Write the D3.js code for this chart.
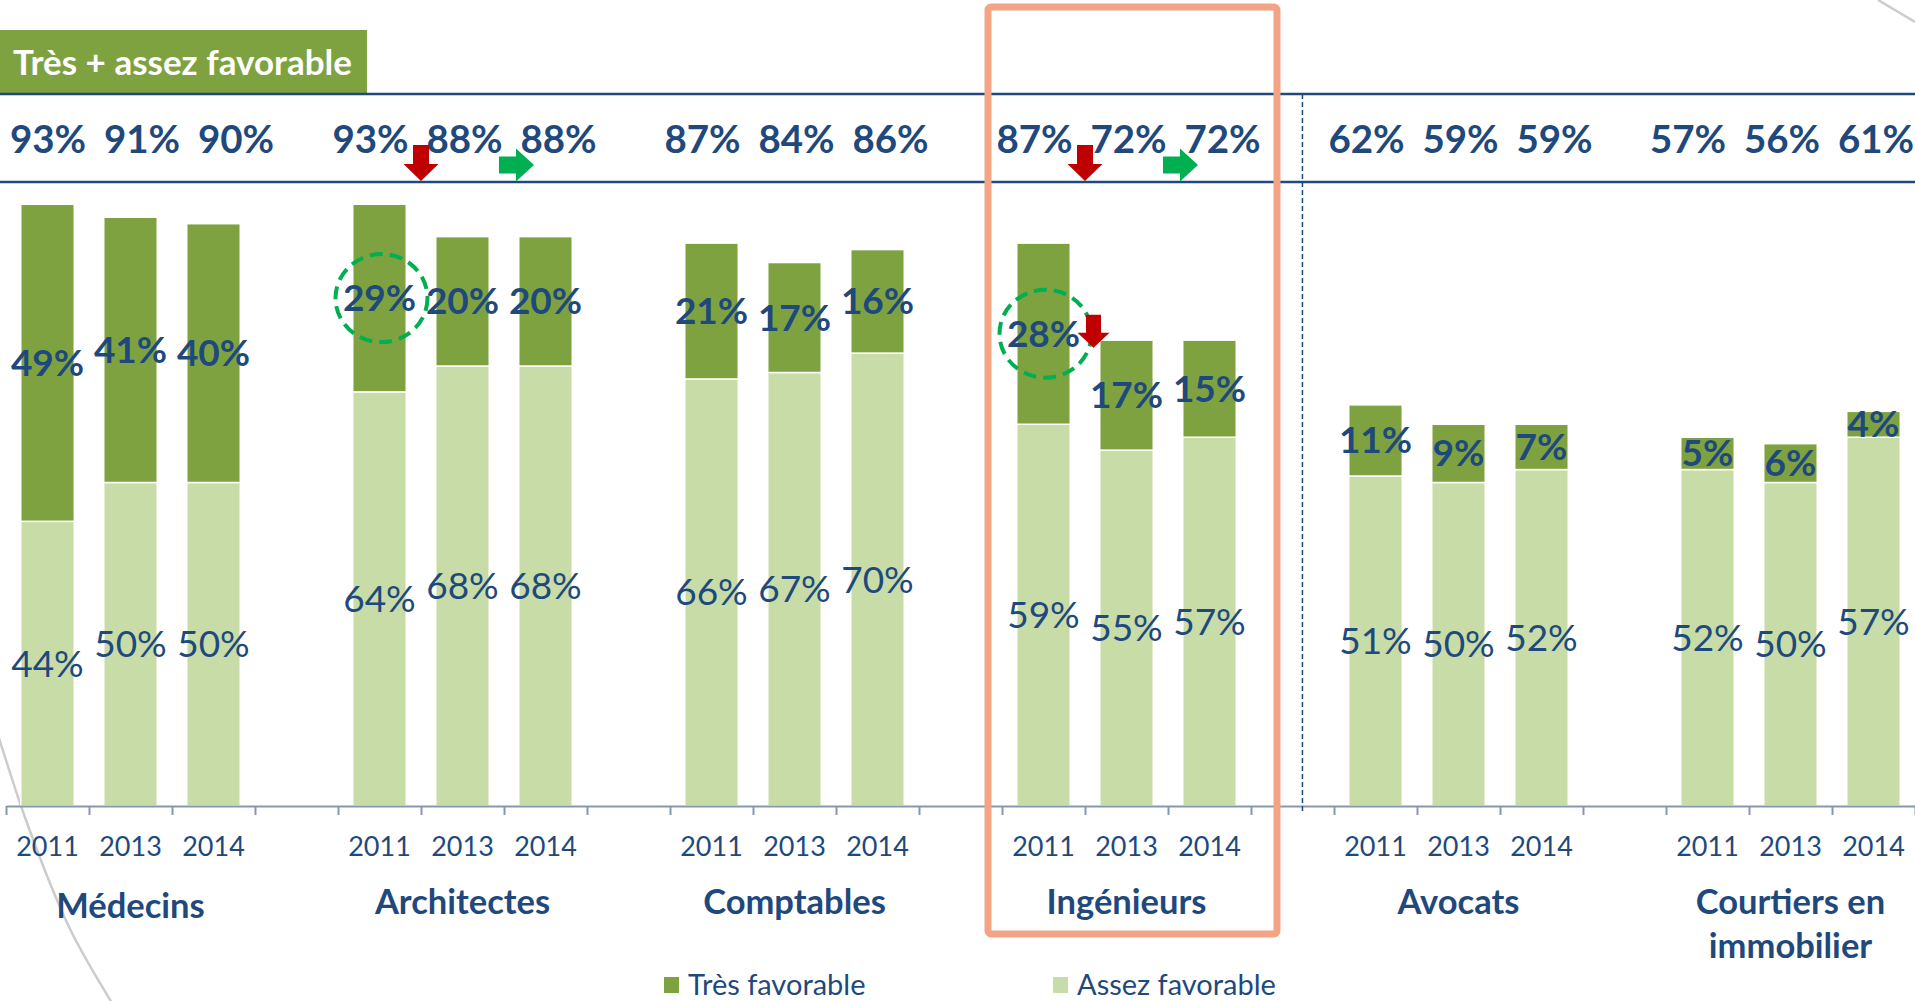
<!DOCTYPE html>
<html lang="fr">
<head>
<meta charset="utf-8">
<title>Très + assez favorable</title>
<script src="https://cdn.jsdelivr.net/npm/d3@7"></script>
<style>
  html, body { margin: 0; padding: 0; background: #fff; }
  svg { display: block; font-family: Lato, "Open Sans", sans-serif; }
</style>
</head>
<body>
<svg id="chart" width="1915" height="1001"></svg>
<script>
const professions = ["Médecins", "Architectes", "Comptables", "Ingénieurs", "Avocats", "Courtiers en immobilier"];
const years = ["2011", "2013", "2014"];
const assezFavorable = [[44, 50, 50], [64, 68, 68], [66, 67, 70], [59, 55, 57], [51, 50, 52], [52, 50, 57]];
const tresFavorable = [[49, 41, 40], [29, 20, 20], [21, 17, 16], [28, 17, 15], [11, 9, 7], [5, 6, 4]];
const totals = [[93, 91, 90], [93, 88, 88], [87, 84, 86], [87, 72, 72], [62, 59, 59], [57, 56, 61]];
const seriesNames = ["Très favorable", "Assez favorable"];
const title = "Très + assez favorable";

// annotations: which group / year they point at
const downArrows = [1, 3];      // red arrow between 2011 and 2013 totals
const flatArrows = [1, 3];      // green arrow between 2013 and 2014 totals
const circled = [{ g: 1, i: 0 }, { g: 3, i: 0 }];
const focusGroup = 3;

const W = 1915, H = 1001;
const blue = "#1f497d";
const dark = "#7ea240", light = "#c8dca8";
const svg = d3.select("#chart");

const slotCount = professions.length * 4 - 1;
const xs = d3.scaleLinear().domain([0, slotCount]).range([6, W]);
const x = d3.scaleBand().domain(d3.range(slotCount)).range([6, W])
  .paddingInner(0.355).paddingOuter(0.1775);
const y = d3.scaleLinear().domain([0, 100]).range([806, 159]);

const rows = [];
professions.forEach((p, g) => years.forEach((yr, i) => rows.push({
  g, i, slot: g * 4 + i, year: yr,
  assez: assezFavorable[g][i], tres: tresFavorable[g][i], total: totals[g][i]
})));
const cx = d => x(d.slot) + x.bandwidth() / 2;
const darkMid = d => (y(d.assez) + y(d.assez + d.tres)) / 2;
const find = (g, i) => rows.find(r => r.g === g && r.i === i);

// total labels sit in a wider row above the bars, kept inside the page
const totalX = d => {
  const mid = cx(find(d.g, 1)) + 2, spread = 94;
  const shift = Math.max(0, 48 - (mid - spread)) + Math.min(0, (W - 39) - (mid + spread));
  return mid + (d.i - 1) * spread + shift;
};

// background decoration of the slide
svg.append("path")
  .attr("d", d3.line().curve(d3.curveNatural)([[-2, 735], [20, 803], [42, 863], [72, 933], [112, 1003]]))
  .attr("fill", "none").attr("stroke", "#cccccc").attr("stroke-width", 2.5);
svg.append("line").attr("x1", 1878).attr("y1", 0).attr("x2", W).attr("y2", 22)
  .attr("stroke", "#cccccc").attr("stroke-width", 2.5);

// bars
const bars = svg.append("g");
bars.selectAll(".assez").data(rows).join("rect")
  .attr("x", d => x(d.slot)).attr("width", x.bandwidth())
  .attr("y", d => y(d.assez)).attr("height", d => y(0) - y(d.assez))
  .attr("fill", light).attr("stroke", "#fff").attr("stroke-width", 1.5);
bars.selectAll(".tres").data(rows).join("rect")
  .attr("x", d => x(d.slot)).attr("width", x.bandwidth())
  .attr("y", d => y(d.assez + d.tres)).attr("height", d => y(d.assez) - y(d.assez + d.tres))
  .attr("fill", dark).attr("stroke", "#fff").attr("stroke-width", 1.5);

// axis
const axis = svg.append("g").attr("transform", `translate(0,${y(0)})`)
  .call(d3.axisBottom(xs).tickValues(d3.range(slotCount + 1)).tickFormat("").tickSize(9).tickSizeOuter(0));
axis.select(".domain").attr("stroke", "#8797b0").attr("stroke-width", 2);
axis.selectAll(".tick line").attr("stroke", "#8797b0").attr("stroke-width", 2);

// segment labels
svg.append("g").selectAll("text").data(rows).join("text")
  .attr("x", cx).attr("y", d => (y(0) + y(d.assez)) / 2 + 13)
  .attr("text-anchor", "middle").attr("font-size", 37).attr("fill", blue)
  .text(d => d.assez + "%");
svg.append("g").selectAll("text").data(rows).join("text")
  .attr("x", cx).attr("y", d => darkMid(d) + 13)
  .attr("text-anchor", "middle").attr("font-size", 37).attr("font-weight", 700).attr("fill", blue)
  .text(d => d.tres + "%");

// year labels
svg.append("g").selectAll("text").data(rows).join("text")
  .attr("x", cx).attr("y", 856)
  .attr("text-anchor", "middle").attr("font-size", 27).attr("fill", blue)
  .text(d => d.year);

// profession labels
const cat = svg.append("g").selectAll("text").data(professions).join("text")
  .attr("x", (p, g) => cx(find(g, 1))).attr("y", (p, g) => g === 0 ? 918 : 914)
  .attr("text-anchor", "middle").attr("font-size", 34.5).attr("font-weight", 700).attr("fill", blue);
cat.each(function (p) {
  const t = d3.select(this);
  const words = p.split(" ");
  let line = [];
  let tspan = t.append("tspan").attr("x", t.attr("x")).attr("dy", 0);
  words.forEach(w => {
    line.push(w);
    tspan.text(line.join(" "));
    if (tspan.node().getComputedTextLength() > 230 && line.length > 1) {
      line.pop();
      tspan.text(line.join(" "));
      line = [w];
      tspan = t.append("tspan").attr("x", t.attr("x")).attr("dy", 44).text(w);
    }
  });
});

// header band
svg.append("rect").attr("x", 0).attr("y", 30).attr("width", 367).attr("height", 64).attr("fill", dark);
svg.append("text").attr("x", 13).attr("y", 75).attr("font-size", 35).attr("font-weight", 700)
  .attr("fill", "#fff").text(title);
[94, 182].forEach(v => svg.append("line").attr("x1", 0).attr("x2", W).attr("y1", v).attr("y2", v)
  .attr("stroke", blue).attr("stroke-width", 2.6));

svg.append("g").selectAll("text").data(rows).join("text")
  .attr("x", totalX).attr("y", 153)
  .attr("text-anchor", "middle").attr("font-size", 38.5).attr("font-weight", 700).attr("fill", blue)
  .text(d => d.total + "%");

// separator
svg.append("line").attr("x1", xs(15.62)).attr("x2", xs(15.62)).attr("y1", 94).attr("y2", 812)
  .attr("stroke", blue).attr("stroke-width", 1.5).attr("stroke-dasharray", "5 3");

// legend
const legend = svg.append("g").selectAll("g").data(seriesNames).join("g")
  .attr("transform", (d, k) => `translate(${k ? 1053 : 664},977)`);
legend.append("rect").attr("width", 15).attr("height", 16).attr("fill", (d, k) => k ? light : dark);
legend.append("text").attr("x", 24).attr("y", 18).attr("font-size", 29).attr("fill", blue).text(d => d);

// annotations
const downArrow = (tx, ty, sw, hw, sh, hh) => [
  [tx - sw / 2, ty - hh - sh], [tx + sw / 2, ty - hh - sh], [tx + sw / 2, ty - hh], [tx + hw / 2, ty - hh],
  [tx, ty], [tx - hw / 2, ty - hh], [tx - sw / 2, ty - hh]];
const rightArrow = (lx, cy, sh, hh, sl, hl) => [
  [lx, cy - sh / 2], [lx + sl, cy - sh / 2], [lx + sl, cy - hh / 2], [lx + sl + hl, cy],
  [lx + sl, cy + hh / 2], [lx + sl, cy + sh / 2], [lx, cy + sh / 2]];

svg.append("rect")
  .attr("x", xs(focusGroup * 4) - 14).attr("y", 7)
  .attr("width", xs(focusGroup * 4 + 3) + 26 - (xs(focusGroup * 4) - 14)).attr("height", 927)
  .attr("rx", 3).attr("fill", "none").attr("stroke", "#f4a385").attr("stroke-width", 7);

svg.append("g").selectAll("polygon").data(downArrows).join("polygon")
  .attr("points", g => downArrow((cx(find(g, 0)) + cx(find(g, 1))) / 2, 181, 16, 35, 19, 17).join(" "))
  .attr("fill", "#c00000");
svg.append("g").selectAll("polygon").data(flatArrows).join("polygon")
  .attr("points", g => rightArrow((cx(find(g, 1)) + cx(find(g, 2))) / 2 - 5, 165, 17, 33, 17, 18).join(" "))
  .attr("fill", "#00b050");

svg.append("g").selectAll("ellipse").data(circled).join("ellipse")
  .attr("cx", c => cx(find(c.g, c.i)) + 2).attr("cy", c => darkMid(find(c.g, c.i)))
  .attr("rx", 46).attr("ry", 44)
  .attr("fill", "none").attr("stroke", "#00b050").attr("stroke-width", 4).attr("stroke-dasharray", "13 7");

const ing = find(focusGroup, 0);
svg.append("polygon")
  .attr("points", downArrow(cx(ing) + 50, darkMid(ing) + 14, 15, 32, 18, 15).join(" "))
  .attr("fill", "#c00000");
</script>
</body>
</html>
